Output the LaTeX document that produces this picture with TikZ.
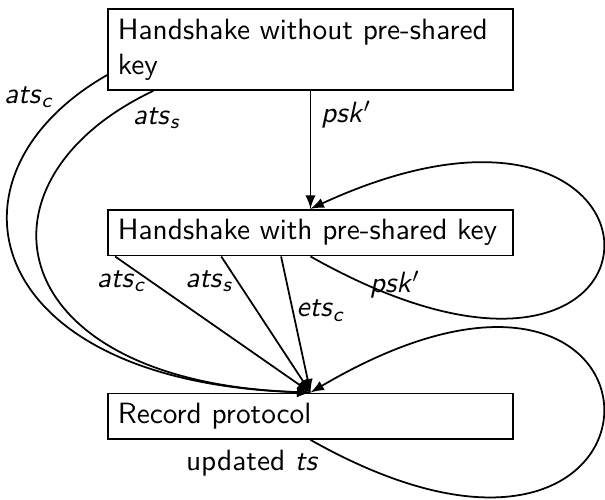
\documentclass[tikz,border=0pt]{standalone}
\usetikzlibrary{positioning}
\renewcommand{\familydefault}{\sfdefault}
\newcommand{\lbl}[2]{\textit{#1}\textsubscript{\textit{#2}}}

\begin{document}
\begin{tikzpicture}[x=0.341pt,y=-0.341pt,>=latex,semithick,node distance=40.2pt,
    box/.style={draw,rectangle,text width=131.4pt,align=left},
    lab/.style={inner sep=1pt}]
    \useasboundingbox (0,0) rectangle (605,500);
    % the three stages, one under the other
    \node[box] (hs1) at (310.5,49.5) {Handshake without pre-shared key};
    \node[box] (hs2) [below=of hs1] {Handshake with pre-shared key};
    \node[box] (rec) [below=46.4pt of hs2] {Record protocol};
    % keys passed down from the first handshake
    \draw[->] (hs1) -- node[pos=.2,right] {\textit{psk}$'$} (hs2);
    \draw[->] ([yshift=-8.7pt]hs1.west) .. controls +(-175,100) and +(-330.5,-10) ..
        node[pos=.11,anchor=south east,lab] {\lbl{ats}{c}} (rec.north);
    \draw[->] ([xshift=15.7pt]hs1.south west) .. controls +(-190,90) and +(-310.5,-10) ..
        node[pos=.045,anchor=north west,lab] {\lbl{ats}{s}} (rec.north);
    % keys from the resumed handshake
    \draw[->] ([xshift=2.7pt]hs2.south west) -- node[pos=.18,anchor=east,lab] {\lbl{ats}{c}} (rec.north);
    \draw[->] ([xshift=38.9pt]hs2.south west) -- node[pos=.18,anchor=east,lab] {\lbl{ats}{s}} (rec.north);
    \draw[->] ([xshift=59.3pt]hs2.south west) -- node[pos=.4,anchor=west,lab] {\lbl{ets}{c}} (rec.north);
    % loops back into the same stage
    \draw[->] (hs2.south) .. controls +(390,220) and +(390,-180) ..
        node[pos=.05,anchor=west,lab] {\textit{psk}$'$} (hs2.north);
    \draw[->] (rec.south) .. controls +(390,220) and +(390,-230) ..
        node[pos=.01,anchor=north east,lab] {updated \textit{ts}} (rec.north);
\end{tikzpicture}
\end{document}
